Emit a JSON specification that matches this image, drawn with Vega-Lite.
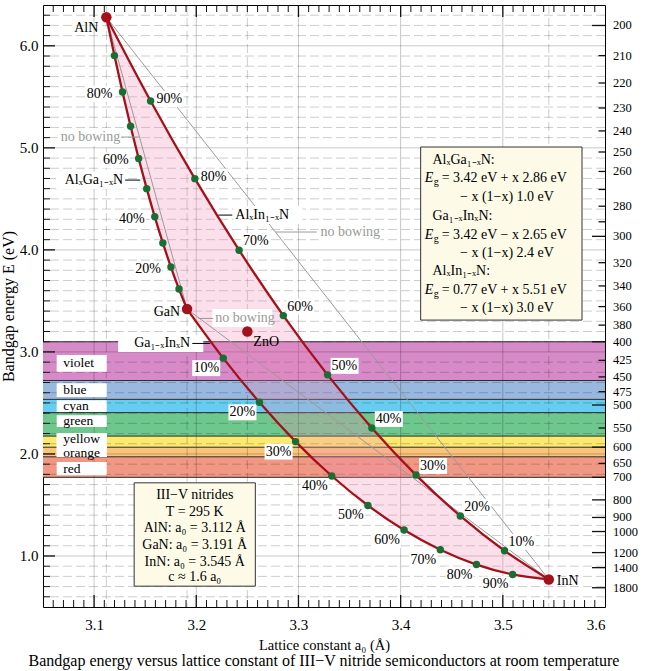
{
"$schema":"https://vega.github.io/schema/vega-lite/v6.json",
"width":562,"height":602,
"autosize":{"type":"none"},
"padding":{"left":43,"top":5,"right":47,"bottom":64},
"background":"white",
"config":{"font":"Liberation Serif","view":{"stroke":"#000","strokeWidth":1}},
"title":{"text":"Bandgap energy versus lattice constant of III−V nitride semiconductors at room temperature","orient":"bottom","fontSize":16,"fontWeight":"normal","font":"Liberation Serif","color":"#000","offset":1,"anchor":"middle"},
"datasets":{
"bands":[{"band":"violet","hi":3.0996,"lo":2.72},{"band":"blue","hi":2.72,"lo":2.535},{"band":"cyan","hi":2.535,"lo":2.405},{"band":"green","hi":2.405,"lo":2.175},{"band":"yellow","hi":2.175,"lo":2.066},{"band":"orange","hi":2.066,"lo":1.972},{"band":"red","hi":1.972,"lo":1.771}],
"bounds":[3.0996,2.72,2.535,2.405,2.175,2.066,1.972,1.771],
"bandlab":[{"band":"violet","E":2.89,"hi":2.969,"lo":2.805},{"band":"blue","E":2.625,"hi":2.694,"lo":2.557},{"band":"cyan","E":2.469,"hi":2.527,"lo":2.41},{"band":"green","E":2.322,"hi":2.38,"lo":2.263},{"band":"yellow","E":2.148,"hi":2.204,"lo":1.969},{"band":"orange","E":2.012,"hi":2.204,"lo":1.969},{"band":"red","E":1.851,"hi":1.92,"lo":1.792}],
"yminor":[0.6,0.7,0.8,0.9,1.1,1.2,1.3,1.4,1.5,1.6,1.7,1.8,1.9,2.1,2.2,2.3,2.4,2.5,2.6,2.7,2.8,2.9,3.1,3.2,3.3,3.4,3.5,3.6,3.7,3.8,3.9,4.1,4.2,4.3,4.4,4.5,4.6,4.7,4.8,4.9,5.1,5.2,5.3,5.4,5.5,5.6,5.7,5.8,5.9,6.1,6.2,6.3],
"ymajor":[1,2,3,4,5,6],
"xminor":[3.06,3.07,3.08,3.09,3.11,3.12,3.13,3.14,3.15,3.16,3.17,3.18,3.19,3.21,3.22,3.23,3.24,3.25,3.26,3.27,3.28,3.29,3.31,3.32,3.33,3.34,3.35,3.36,3.37,3.38,3.39,3.41,3.42,3.43,3.44,3.45,3.46,3.47,3.48,3.49,3.51,3.52,3.53,3.54,3.55,3.56,3.57,3.58,3.59],
"xmajor":[3.1,3.2,3.3,3.4,3.5],
"vdash":[3.112,3.191,3.25,3.545],
"pts":[
{"al":"AlGaN","x":0,"a":3.191,"E":3.42,"o":10},
{"al":"AlGaN","x":0.1,"a":3.1831,"E":3.616,"o":9},
{"al":"AlGaN","x":0.2,"a":3.1752,"E":3.832,"o":8},
{"al":"AlGaN","x":0.3,"a":3.1673,"E":4.068,"o":7},
{"al":"AlGaN","x":0.4,"a":3.1594,"E":4.324,"o":6},
{"al":"AlGaN","x":0.5,"a":3.1515,"E":4.6,"o":5},
{"al":"AlGaN","x":0.6,"a":3.1436,"E":4.896,"o":4},
{"al":"AlGaN","x":0.7,"a":3.1357,"E":5.212,"o":3},
{"al":"AlGaN","x":0.8,"a":3.1278,"E":5.548,"o":2},
{"al":"AlGaN","x":0.9,"a":3.1199,"E":5.904,"o":1},
{"al":"AlGaN","x":1,"a":3.112,"E":6.28,"o":0},
{"al":"GaInN","x":0,"a":3.191,"E":3.42,"o":10},
{"al":"GaInN","x":0.1,"a":3.2264,"E":2.939,"o":11},
{"al":"GaInN","x":0.2,"a":3.2618,"E":2.506,"o":12},
{"al":"GaInN","x":0.3,"a":3.2972,"E":2.121,"o":13},
{"al":"GaInN","x":0.4,"a":3.3326,"E":1.784,"o":14},
{"al":"GaInN","x":0.5,"a":3.368,"E":1.495,"o":15},
{"al":"GaInN","x":0.6,"a":3.4034,"E":1.254,"o":16},
{"al":"GaInN","x":0.7,"a":3.4388,"E":1.061,"o":17},
{"al":"GaInN","x":0.8,"a":3.4742,"E":0.916,"o":18},
{"al":"GaInN","x":0.9,"a":3.5096,"E":0.819,"o":19},
{"al":"GaInN","x":1,"a":3.545,"E":0.77,"o":20},
{"al":"AlInN","x":0,"a":3.545,"E":0.77,"o":20},
{"al":"AlInN","x":0.1,"a":3.5017,"E":1.051,"o":21},
{"al":"AlInN","x":0.2,"a":3.4584,"E":1.392,"o":22},
{"al":"AlInN","x":0.3,"a":3.4151,"E":1.793,"o":23},
{"al":"AlInN","x":0.4,"a":3.3718,"E":2.254,"o":24},
{"al":"AlInN","x":0.5,"a":3.3285,"E":2.775,"o":25},
{"al":"AlInN","x":0.6,"a":3.2852,"E":3.356,"o":26},
{"al":"AlInN","x":0.7,"a":3.2419,"E":3.997,"o":27},
{"al":"AlInN","x":0.8,"a":3.1986,"E":4.698,"o":28},
{"al":"AlInN","x":0.9,"a":3.1553,"E":5.459,"o":29},
{"al":"AlInN","x":1,"a":3.112,"E":6.28,"o":30}],
"bin":[{"name":"AlN","a":3.112,"E":6.28},{"name":"GaN","a":3.191,"E":3.42},{"name":"InN","a":3.545,"E":0.77},{"name":"ZnO","a":3.25,"E":3.2}],
"leadK":[{"a1":3.1304,"a2":3.1451,"E":4.684},{"a1":3.1961,"a2":3.2137,"E":3.083},{"a1":3.2216,"a2":3.2353,"E":4.341}],
"leadG":[{"a1":3.1265,"a2":3.1441,"E":5.106},{"a1":3.202,"a2":3.2167,"E":3.328},{"a1":3.2775,"a2":3.318,"E":4.175}],
"noteR":[{"a":3.1284,"E":4.684,"t":"AlₓGa₁₋ₓN"},{"a":3.1941,"E":3.083,"t":"Ga₁₋ₓInₓN"}],
"noteL":[{"a":3.2382,"E":4.341,"t":"AlₓIn₁₋ₓN"}],
"grayR":[{"a":3.1255,"E":5.106,"t":"no bowing"}],
"grayL":[{"a":3.2186,"E":3.328,"t":"no bowing"},{"a":3.3216,"E":4.175,"t":"no bowing"}],
"nbox":[{"a1":3.0627,"a2":3.1294,"E1":4.763,"E2":4.596},{"a1":3.1235,"a2":3.2069,"E1":3.165,"E2":2.998},{"a1":3.2363,"a2":3.3039,"E1":4.429,"E2":4.253},{"a1":3.0647,"a2":3.1265,"E1":5.194,"E2":5.018},{"a1":3.2157,"a2":3.2745,"E1":3.42,"E2":3.243},{"a1":3.3196,"a2":3.3804,"E1":4.263,"E2":4.086}],
"ibox":[{"a1":3.4196,"a2":3.5775,"E1":5.008,"E2":3.312},{"a1":3.1392,"a2":3.2578,"E1":1.717,"E2":0.704}],
"infoL":[{"a":3.4311,"E":4.885,"t":"AlₓGa₁₋ₓN:"},{"a":3.4581,"E":4.515,"t":"− x (1−x) 1.0 eV"},{"a":3.4311,"E":4.331,"t":"Ga₁₋ₓInₓN:"},{"a":3.4581,"E":3.968,"t":"− x (1−x) 2.4 eV"},{"a":3.4311,"E":3.792,"t":"AlₓIn₁₋ₓN:"},{"a":3.4581,"E":3.434,"t":"− x (1−x) 3.0 eV"}],
"infoEg":[{"a":3.4235,"E":4.701,"t":"= 3.42 eV + x 2.86 eV"},{"a":3.4235,"E":4.145,"t":"= 3.42 eV − x 2.65 eV"},{"a":3.4235,"E":3.611,"t":"= 0.77 eV + x 5.51 eV"}],
"infoC":[{"a":3.1985,"E":1.596,"t":"III−V  nitrides"},{"a":3.1985,"E":1.432,"t":"T = 295 K"},{"a":3.1985,"E":1.27,"t":"AlN:  a₀ = 3.112 Å"},{"a":3.1985,"E":1.106,"t":"GaN: a₀ = 3.191 Å"},{"a":3.1985,"E":0.942,"t":"InN:  a₀ = 3.545 Å"},{"a":3.1985,"E":0.795,"t":"c ≈ 1.6 a₀"}],
"lam":[{"lam":200,"E":6.1992},{"lam":210,"E":5.904},{"lam":220,"E":5.6356},{"lam":230,"E":5.3906},{"lam":240,"E":5.166},{"lam":250,"E":4.9594},{"lam":260,"E":4.7686},{"lam":270,"E":4.592},{"lam":280,"E":4.428},{"lam":290,"E":4.2753},{"lam":300,"E":4.1328},{"lam":320,"E":3.8745},{"lam":340,"E":3.6466},{"lam":360,"E":3.444},{"lam":380,"E":3.2627},{"lam":400,"E":3.0996},{"lam":425,"E":2.9173},{"lam":450,"E":2.7552},{"lam":475,"E":2.6102},{"lam":500,"E":2.4797},{"lam":550,"E":2.2543},{"lam":600,"E":2.0664},{"lam":650,"E":1.9074},{"lam":700,"E":1.7712},{"lam":800,"E":1.5498},{"lam":900,"E":1.3776},{"lam":1000,"E":1.2398},{"lam":1200,"E":1.0332},{"lam":1400,"E":0.8856},{"lam":1800,"E":0.6888}]
},
"layer":[
{"data":{"name":"bands"},"mark":{"type":"rect"},
 "encoding":{
  "x":{"datum":3.05,"type":"quantitative"},"x2":{"datum":3.6},
  "y":{"field":"hi","type":"quantitative","scale":{"domain":[0.5,6.4],"nice":false,"zero":false},
       "axis":{"values":[1,2,3,4,5,6],"format":".1f","title":"Bandgap energy  E  (eV)","ticks":false,"tickSize":0,"domain":false,"grid":false,"labelFontSize":15,"labelPadding":5,"labelColor":"#000","labelFont":"Liberation Serif","titleFont":"Liberation Serif","titleFontSize":16,"titleFontWeight":"normal","titleColor":"#000","titlePadding":3}},
  "y2":{"field":"lo"},
  "color":{"field":"band","type":"nominal","scale":{"domain":["violet","blue","cyan","green","yellow","orange","red"],"range":["#d78ac8","#98b8e0","#66cdf0","#6ec88e","#fde96e","#fac47a","#f19884"]},"legend":null}}},
{"data":{"name":"yminor"},"mark":{"type":"rule","color":"#000","opacity":0.2,"strokeDash":[9,4],"strokeWidth":1},"encoding":{"y":{"field":"data","type":"quantitative"}}},
{"data":{"name":"ymajor"},"mark":{"type":"rule","color":"#000","opacity":0.22,"strokeWidth":1},"encoding":{"y":{"field":"data","type":"quantitative"}}},
{"data":{"name":"xmajor"},"mark":{"type":"rule","color":"#000","opacity":0.22,"strokeWidth":1},
 "encoding":{"x":{"field":"data","type":"quantitative","scale":{"domain":[3.05,3.6],"nice":false,"zero":false},
  "axis":{"values":[3.1,3.2,3.3,3.4,3.5,3.6],"format":".1f","title":"Lattice constant a₀ (Å)","ticks":false,"tickSize":0,"domain":false,"grid":false,"labelFontSize":15,"labelPadding":10,"labelColor":"#000","labelFont":"Liberation Serif","titleFont":"Liberation Serif","titleFontSize":14.5,"titleFontWeight":"normal","titleColor":"#000","titlePadding":6}}}},
{"data":{"name":"vdash"},"mark":{"type":"rule","color":"#000","opacity":0.2,"strokeDash":[9,4],"strokeWidth":1},"encoding":{"x":{"field":"data","type":"quantitative"}}},
{"data":{"name":"bounds"},"mark":{"type":"rule","color":"#2a2a2a","strokeWidth":1},"encoding":{"y":{"field":"data","type":"quantitative"}}},
{"data":{"name":"bandlab"},"mark":{"type":"rect","fill":"white"},"encoding":{"x":{"datum":3.0634,"type":"quantitative"},"x2":{"datum":3.1124},"y":{"field":"hi","type":"quantitative"},"y2":{"field":"lo"}}},
{"data":{"name":"bandlab"},"mark":{"type":"text","align":"left","baseline":"middle","fontSize":13.5,"color":"#000"},"encoding":{"x":{"datum":3.0699,"type":"quantitative"},"y":{"field":"E","type":"quantitative"},"text":{"field":"band"}}},
{"data":{"name":"pts"},"mark":{"type":"line","filled":true,"interpolate":"linear-closed","fill":"#f08cb4","fillOpacity":0.28},"encoding":{"x":{"field":"a","type":"quantitative"},"y":{"field":"E","type":"quantitative"},"order":{"field":"o","type":"quantitative"}}},
{"data":{"name":"pts"},"transform":[{"filter":"datum.x===0||datum.x===1"}],"mark":{"type":"line","color":"#9a9a9a","strokeWidth":1},"encoding":{"x":{"field":"a","type":"quantitative"},"y":{"field":"E","type":"quantitative"},"detail":{"field":"al"}}},
{"data":{"name":"nbox"},"mark":{"type":"rect","fill":"white"},"encoding":{"x":{"field":"a1","type":"quantitative"},"x2":{"field":"a2"},"y":{"field":"E1","type":"quantitative"},"y2":{"field":"E2"}}},
{"data":{"name":"pts"},"transform":[{"filter":"datum.al==='AlGaN' && (datum.x===0.2||datum.x===0.4||datum.x===0.6||datum.x===0.8)"}],"mark":{"type":"point","shape":"M-1,-0.57H1V0.57H-1Z","size":784,"filled":true,"fill":"white","opacity":1,"strokeWidth":0,"xOffset":-23,"yOffset":2},"encoding":{"x":{"field":"a","type":"quantitative"},"y":{"field":"E","type":"quantitative"}}},
{"data":{"name":"pts"},"transform":[{"filter":"datum.al==='AlInN' && datum.x>0.75 && datum.x<0.95"}],"mark":{"type":"point","shape":"M-1,-0.57H1V0.57H-1Z","size":784,"filled":true,"fill":"white","opacity":1,"strokeWidth":0,"xOffset":19,"yOffset":-2},"encoding":{"x":{"field":"a","type":"quantitative"},"y":{"field":"E","type":"quantitative"}}},
{"data":{"name":"pts"},"transform":[{"filter":"datum.al==='AlInN' && datum.x>0.05 && datum.x<0.75"}],"mark":{"type":"point","shape":"M-1,-0.57H1V0.57H-1Z","size":784,"filled":true,"fill":"white","opacity":1,"strokeWidth":0,"xOffset":17,"yOffset":-9},"encoding":{"x":{"field":"a","type":"quantitative"},"y":{"field":"E","type":"quantitative"}}},
{"data":{"name":"pts"},"transform":[{"filter":"datum.al==='GaInN' && datum.x>0.05 && datum.x<0.95"}],"mark":{"type":"point","shape":"M-1,-0.57H1V0.57H-1Z","size":784,"filled":true,"fill":"white","opacity":1,"strokeWidth":0,"xOffset":-17,"yOffset":10},"encoding":{"x":{"field":"a","type":"quantitative"},"y":{"field":"E","type":"quantitative"}}},
{"data":{"name":"pts"},"mark":{"type":"line","interpolate":"monotone","color":"#a3121b","strokeWidth":2.3},"encoding":{"x":{"field":"a","type":"quantitative"},"y":{"field":"E","type":"quantitative"},"detail":{"field":"al"}}},
{"data":{"name":"leadK"},"mark":{"type":"rule","color":"#000","strokeWidth":1},"encoding":{"x":{"field":"a1","type":"quantitative"},"x2":{"field":"a2"},"y":{"field":"E","type":"quantitative"}}},
{"data":{"name":"leadG"},"mark":{"type":"rule","color":"#9a9a9a","strokeWidth":1},"encoding":{"x":{"field":"a1","type":"quantitative"},"x2":{"field":"a2"},"y":{"field":"E","type":"quantitative"}}},
{"data":{"name":"noteR"},"mark":{"type":"text","align":"right","baseline":"middle","fontSize":14,"color":"#000"},"encoding":{"x":{"field":"a","type":"quantitative"},"y":{"field":"E","type":"quantitative"},"text":{"field":"t"}}},
{"data":{"name":"noteL"},"mark":{"type":"text","align":"left","baseline":"middle","fontSize":14,"color":"#000"},"encoding":{"x":{"field":"a","type":"quantitative"},"y":{"field":"E","type":"quantitative"},"text":{"field":"t"}}},
{"data":{"name":"grayR"},"mark":{"type":"text","align":"right","baseline":"middle","fontSize":14,"color":"#999"},"encoding":{"x":{"field":"a","type":"quantitative"},"y":{"field":"E","type":"quantitative"},"text":{"field":"t"}}},
{"data":{"name":"grayL"},"mark":{"type":"text","align":"left","baseline":"middle","fontSize":14,"color":"#999"},"encoding":{"x":{"field":"a","type":"quantitative"},"y":{"field":"E","type":"quantitative"},"text":{"field":"t"}}},
{"data":{"name":"pts"},"transform":[{"filter":"datum.al==='AlGaN' && (datum.x===0.2||datum.x===0.4||datum.x===0.6||datum.x===0.8)"}],"mark":{"type":"text","align":"right","baseline":"middle","fontSize":14,"color":"#000","dx":-10,"dy":2},"encoding":{"x":{"field":"a","type":"quantitative"},"y":{"field":"E","type":"quantitative"},"text":{"field":"x","type":"quantitative","format":".0%"}}},
{"data":{"name":"pts"},"transform":[{"filter":"datum.al==='AlInN' && datum.x>0.75 && datum.x<0.95"}],"mark":{"type":"text","align":"left","baseline":"middle","fontSize":14,"color":"#000","dx":6,"dy":-2},"encoding":{"x":{"field":"a","type":"quantitative"},"y":{"field":"E","type":"quantitative"},"text":{"field":"x","type":"quantitative","format":".0%"}}},
{"data":{"name":"pts"},"transform":[{"filter":"datum.al==='AlInN' && datum.x>0.05 && datum.x<0.75"}],"mark":{"type":"text","align":"left","baseline":"middle","fontSize":14,"color":"#000","dx":4,"dy":-9},"encoding":{"x":{"field":"a","type":"quantitative"},"y":{"field":"E","type":"quantitative"},"text":{"field":"x","type":"quantitative","format":".0%"}}},
{"data":{"name":"pts"},"transform":[{"filter":"datum.al==='GaInN' && datum.x>0.05 && datum.x<0.95"}],"mark":{"type":"text","align":"center","baseline":"middle","fontSize":14,"color":"#000","dx":-17,"dy":10},"encoding":{"x":{"field":"a","type":"quantitative"},"y":{"field":"E","type":"quantitative"},"text":{"field":"x","type":"quantitative","format":".0%"}}},
{"data":{"name":"pts"},"transform":[{"filter":"datum.x>0.05 && datum.x<0.95"}],"mark":{"type":"point","filled":true,"size":55,"fill":"#1b6e32","opacity":1,"strokeWidth":0},"encoding":{"x":{"field":"a","type":"quantitative"},"y":{"field":"E","type":"quantitative"}}},
{"data":{"name":"bin"},"mark":{"type":"point","filled":true,"size":110,"fill":"#a3121b","opacity":1,"strokeWidth":0},"encoding":{"x":{"field":"a","type":"quantitative"},"y":{"field":"E","type":"quantitative"}}},
{"data":{"name":"bin"},"transform":[{"filter":"datum.name==='AlN'"}],"mark":{"type":"text","align":"right","baseline":"middle","fontSize":14,"color":"#000","dx":-8,"dy":11},"encoding":{"x":{"field":"a","type":"quantitative"},"y":{"field":"E","type":"quantitative"},"text":{"field":"name"}}},
{"data":{"name":"bin"},"transform":[{"filter":"datum.name==='GaN'"}],"mark":{"type":"text","align":"right","baseline":"middle","fontSize":14,"color":"#000","dx":-7,"dy":3},"encoding":{"x":{"field":"a","type":"quantitative"},"y":{"field":"E","type":"quantitative"},"text":{"field":"name"}}},
{"data":{"name":"bin"},"transform":[{"filter":"datum.name==='InN'"}],"mark":{"type":"text","align":"left","baseline":"middle","fontSize":14,"color":"#000","dx":8,"dy":2},"encoding":{"x":{"field":"a","type":"quantitative"},"y":{"field":"E","type":"quantitative"},"text":{"field":"name"}}},
{"data":{"name":"bin"},"transform":[{"filter":"datum.name==='ZnO'"}],"mark":{"type":"text","align":"left","baseline":"middle","fontSize":14,"color":"#000","dx":6,"dy":10},"encoding":{"x":{"field":"a","type":"quantitative"},"y":{"field":"E","type":"quantitative"},"text":{"field":"name"}}},
{"data":{"name":"ibox"},"mark":{"type":"rect","fill":"#fdfbe8","stroke":"#333","strokeWidth":1},"encoding":{"x":{"field":"a1","type":"quantitative"},"x2":{"field":"a2"},"y":{"field":"E1","type":"quantitative"},"y2":{"field":"E2"}}},
{"data":{"name":"infoL"},"mark":{"type":"text","align":"left","baseline":"middle","fontSize":14,"color":"#000"},"encoding":{"x":{"field":"a","type":"quantitative"},"y":{"field":"E","type":"quantitative"},"text":{"field":"t"}}},
{"data":{"name":"infoEg"},"mark":{"type":"text","align":"left","baseline":"middle","fontSize":14,"fontStyle":"italic","color":"#000"},"encoding":{"x":{"field":"a","type":"quantitative"},"y":{"field":"E","type":"quantitative"},"text":{"value":"E"}}},
{"data":{"name":"infoEg"},"mark":{"type":"text","align":"left","baseline":"middle","fontSize":10,"color":"#000","dx":9,"dy":4},"encoding":{"x":{"field":"a","type":"quantitative"},"y":{"field":"E","type":"quantitative"},"text":{"value":"g"}}},
{"data":{"name":"infoEg"},"mark":{"type":"text","align":"left","baseline":"middle","fontSize":14,"color":"#000","dx":17},"encoding":{"x":{"field":"a","type":"quantitative"},"y":{"field":"E","type":"quantitative"},"text":{"field":"t"}}},
{"data":{"name":"infoC"},"mark":{"type":"text","align":"center","baseline":"middle","fontSize":14,"color":"#000"},"encoding":{"x":{"field":"a","type":"quantitative"},"y":{"field":"E","type":"quantitative"},"text":{"field":"t"}}},
{"data":{"name":"yminor"},"mark":{"type":"tick","orient":"horizontal","size":14,"thickness":1,"color":"#111","opacity":1,"clip":true},"encoding":{"x":{"datum":3.05,"type":"quantitative"},"y":{"field":"data","type":"quantitative"}}},
{"data":{"name":"ymajor"},"mark":{"type":"tick","orient":"horizontal","size":24,"thickness":1.3,"color":"#111","opacity":1,"clip":true},"encoding":{"x":{"datum":3.05,"type":"quantitative"},"y":{"field":"data","type":"quantitative"}}},
{"data":{"name":"xminor"},"mark":{"type":"tick","orient":"vertical","size":14,"thickness":1,"color":"#111","opacity":1,"clip":true},"encoding":{"x":{"field":"data","type":"quantitative"},"y":{"datum":0.5,"type":"quantitative"}}},
{"data":{"name":"xmajor"},"mark":{"type":"tick","orient":"vertical","size":24,"thickness":1.3,"color":"#111","opacity":1,"clip":true},"encoding":{"x":{"field":"data","type":"quantitative"},"y":{"datum":0.5,"type":"quantitative"}}},
{"data":{"name":"xminor"},"mark":{"type":"tick","orient":"vertical","size":14,"thickness":1,"color":"#111","opacity":1,"clip":true},"encoding":{"x":{"field":"data","type":"quantitative"},"y":{"datum":6.4,"type":"quantitative"}}},
{"data":{"name":"xmajor"},"mark":{"type":"tick","orient":"vertical","size":24,"thickness":1.3,"color":"#111","opacity":1,"clip":true},"encoding":{"x":{"field":"data","type":"quantitative"},"y":{"datum":6.4,"type":"quantitative"}}},
{"data":{"name":"lam"},"transform":[{"filter":"datum.lam % 100 === 0"}],"mark":{"type":"tick","orient":"horizontal","size":26,"thickness":1.3,"color":"#111","opacity":1,"clip":true},"encoding":{"x":{"datum":3.6,"type":"quantitative"},"y":{"field":"E","type":"quantitative"}}},
{"data":{"name":"lam"},"transform":[{"filter":"datum.lam % 100 !== 0"}],"mark":{"type":"tick","orient":"horizontal","size":13,"thickness":1.3,"color":"#111","opacity":1,"clip":true},"encoding":{"x":{"datum":3.6,"type":"quantitative"},"y":{"field":"E","type":"quantitative"}}},
{"data":{"name":"lam"},"transform":[{"filter":"datum.lam !== 270 && datum.lam !== 290"}],"mark":{"type":"text","align":"left","baseline":"middle","fontSize":12.5,"color":"#000","dx":8},"encoding":{"x":{"datum":3.6,"type":"quantitative"},"y":{"field":"E","type":"quantitative"},"text":{"field":"lam"}}},
{"mark":{"type":"text","align":"left","baseline":"middle","fontSize":14,"color":"#000","dx":7,"dy":8},"encoding":{"x":{"datum":3.6,"type":"quantitative"},"y":{"datum":6.4,"type":"quantitative"},"text":{"value":"λ (nm)"}}},
{"mark":{"type":"text","align":"center","baseline":"middle","fontSize":14,"angle":270,"color":"#000"},"encoding":{"x":{"datum":3.0781,"type":"quantitative"},"y":{"datum":0.795,"type":"quantitative"},"text":{"value":"SiC"}}},
{"mark":{"type":"rule","color":"#000","strokeWidth":1.2},"encoding":{"x":{"datum":3.0846,"type":"quantitative"},"y":{"datum":0.87,"type":"quantitative"},"y2":{"datum":0.64}}},
{"mark":{"type":"point","shape":"triangle-down","filled":true,"size":40,"fill":"#000","opacity":1,"strokeWidth":0},"encoding":{"x":{"datum":3.0846,"type":"quantitative"},"y":{"datum":0.625,"type":"quantitative"}}}
]
}
